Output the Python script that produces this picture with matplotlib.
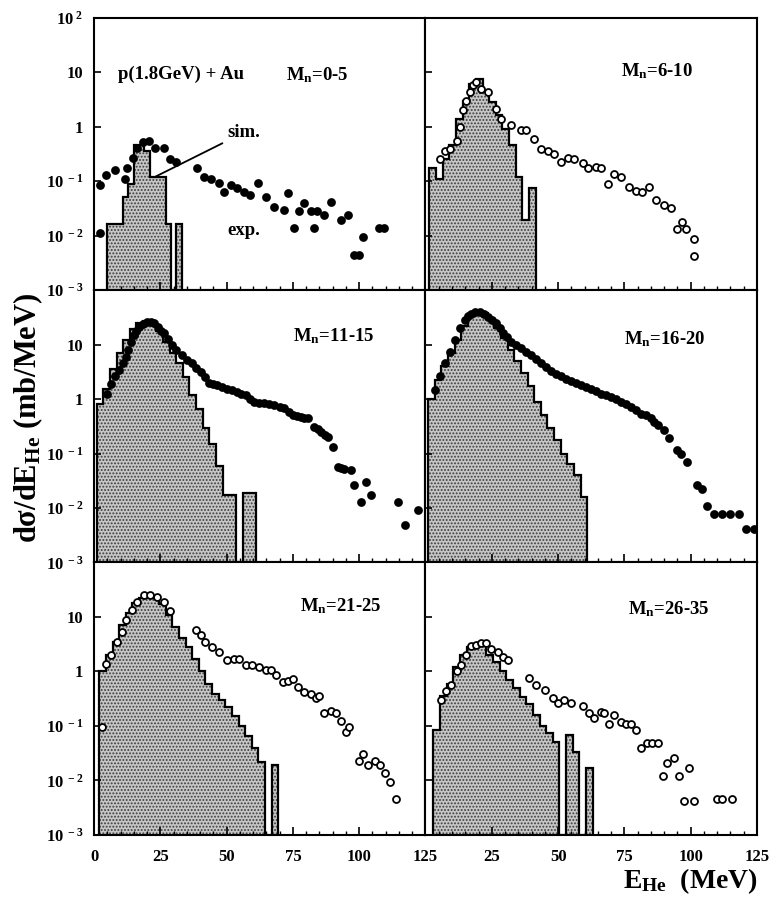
import numpy as np
import matplotlib
matplotlib.use('Agg')
import matplotlib.pyplot as plt
from matplotlib.ticker import FixedLocator, MultipleLocator, NullLocator

plt.rcParams['font.family'] = ['Liberation Serif', 'DejaVu Serif']
plt.rcParams['font.weight'] = 'bold'
plt.rcParams['mathtext.fontset'] = 'custom'
plt.rcParams['mathtext.rm'] = 'Liberation Serif:bold'
plt.rcParams['mathtext.it'] = 'Liberation Serif:italic:bold'
plt.rcParams['mathtext.bf'] = 'Liberation Serif:bold'
plt.rcParams['mathtext.default'] = 'rm'
plt.rcParams['hatch.linewidth'] = 0.9

YMIN, YMAX = 1e-3, 1e2

# multiplicity windows
mn_labels = ['0-5', '6-10', '11-15', '16-20', '21-25', '26-35']

# simulated spectra: first bin edge, bin width (MeV), bin contents (mb/MeV)
sim_start = [5.0, 1.5, 1.0, 1.0, 2.0, 3.0]
sim_width = [2.0, 2.5, 2.5, 2.5, 2.5, 2.5]
sim_0_5 = [0.016, 0.016, 0.016, 0.05, 0.09, 0.45, 0.45, 0.35, 0.12, 0.12, 0.12,
           0.016, 0, 0.016]
sim_6_10 = [0.17, 0.11, 0.25, 0.45, 1.4, 3.0, 6.0, 7.4, 4.5, 2.8, 1.6, 0.9, 0.45,
            0.12, 0.019, 0.075]
sim_11_15 = [0.8, 1.5, 3.5, 7.0, 12.0, 19.0, 25.0, 27.0, 25.0, 18.0, 11.0, 7.0, 4.5,
             2.5, 1.2, 0.65, 0.3, 0.15, 0.06, 0.017, 0.017, 0, 0.019, 0.019]
sim_16_20 = [1.0, 2.2, 4.0, 7.0, 12.0, 22.0, 33.0, 39.0, 38.0, 30.0, 20.0, 13.0, 8.0,
             5.0, 3.0, 1.7, 0.9, 0.5, 0.3, 0.18, 0.1, 0.065, 0.04, 0.016]
sim_21_25 = [1.0, 2.0, 3.5, 7.0, 12.0, 18.0, 22.0, 23.0, 22.0, 17.0, 11.0, 6.5, 4.2,
             2.8, 1.7, 1.0, 0.6, 0.38, 0.3, 0.22, 0.15, 0.1, 0.065, 0.04, 0.022,
             0, 0.019]
sim_26_35 = [0.085, 0.35, 0.6, 1.2, 2.0, 2.8, 3.2, 3.0, 2.0, 1.5, 1.0, 0.7, 0.5,
             0.34, 0.25, 0.16, 0.1, 0.075, 0.05, 0, 0.068, 0.034, 0, 0.017]

# measured spectra: energy (MeV) and cross section (mb/MeV)
exp_e_0_5 = [2.3, 2.3, 4.5, 8.0, 11.7, 12.5, 14.8, 16.2, 18.6, 20.6, 23.0, 26.2,
             28.8, 31.0, 39.0, 41.4, 44.0, 47.0, 49.0, 51.5, 54.0, 56.5, 59.0,
             62.0, 65.0, 68.0, 71.5, 73.0, 75.3, 77.4, 79.3, 81.8, 83.0, 84.0,
             86.8, 89.4, 93.0, 95.7, 98.0, 100.0, 101.4, 107.6, 109.5]
exp_v_0_5 = [0.011, 0.085, 0.13, 0.16, 0.11, 0.17, 0.27, 0.41, 0.52, 0.55, 0.41,
             0.41, 0.25, 0.22, 0.17, 0.12, 0.11, 0.093, 0.063, 0.085, 0.075, 0.064,
             0.056, 0.093, 0.05, 0.034, 0.029, 0.06, 0.014, 0.028, 0.04, 0.028,
             0.014, 0.028, 0.024, 0.041, 0.019, 0.024, 0.0044, 0.0044, 0.0093,
             0.014, 0.014]

exp_e_6_10 = [5.4, 7.3, 9.1, 11.7, 12.9, 14.2, 15.4, 16.7, 17.9, 19.2, 21.0, 23.6,
              26.7, 28.6, 32.3, 36.1, 38.0, 41.1, 43.6, 46.1, 48.6, 51.1, 53.6,
              56.1, 59.3, 61.2, 64.3, 66.2, 68.7, 71.2, 73.7, 76.8, 79.3, 81.8,
              84.3, 86.8, 90.0, 92.5, 95.0, 96.9, 98.1, 101.2, 101.2]
exp_v_6_10 = [0.25, 0.36, 0.39, 0.55, 1.0, 2.0, 3.0, 4.3, 5.7, 6.6, 4.9, 4.3, 2.1,
              1.4, 1.05, 0.85, 0.85, 0.58, 0.39, 0.36, 0.32, 0.22, 0.27, 0.25, 0.21,
              0.17, 0.18, 0.17, 0.089, 0.135, 0.12, 0.077, 0.067, 0.062, 0.077,
              0.044, 0.037, 0.032, 0.013, 0.018, 0.013, 0.0087, 0.0043]

exp_e_11_15 = [4.8, 6.5, 8.0, 9.5, 11.1, 12.0, 13.0, 14.0, 14.9, 15.8, 16.8, 18.4,
               20.0, 21.3, 22.5, 24.0, 25.2, 26.3, 27.8, 29.4, 31.0, 33.2, 35.0,
               37.0, 38.6, 40.2, 41.8, 43.3, 45.0, 46.5, 48.4, 50.3, 52.0, 54.0,
               55.6, 57.2, 58.8, 60.3, 62.2, 64.1, 66.0, 68.0, 70.0, 71.7, 73.4,
               74.9, 76.5, 78.0, 79.3, 80.6, 83.0, 84.3, 85.6, 87.0, 88.1, 90.0,
               91.9, 93.1, 94.4, 97.0, 98.2, 100.8, 102.7, 104.5, 114.7, 117.2,
               122.2]
exp_v_11_15 = [1.26, 1.9, 2.6, 3.4, 4.5, 6.0, 7.9, 11.0, 15.0, 18.0, 21.0, 24.0,
               26.0, 26.0, 24.5, 21.0, 18.0, 16.0, 12.5, 9.8, 8.0, 6.4, 5.3, 4.5,
               3.7, 3.1, 2.5, 2.0, 1.9, 1.8, 1.65, 1.55, 1.45, 1.35, 1.25, 1.18,
               1.0, 0.89, 0.86, 0.83, 0.8, 0.78, 0.72, 0.68, 0.58, 0.5, 0.48, 0.47,
               0.45, 0.44, 0.31, 0.28, 0.25, 0.22, 0.2, 0.13, 0.057, 0.055, 0.053,
               0.049, 0.026, 0.013, 0.03, 0.017, 0.013, 0.0048, 0.009]

exp_e_16_20 = [3.5, 5.4, 7.3, 9.1, 11.0, 12.9, 14.8, 16.0, 17.3, 18.8, 20.4, 22.0,
               23.6, 25.2, 26.7, 28.0, 29.2, 30.8, 32.3, 34.2, 36.1, 38.0, 39.8,
               41.7, 43.6, 45.5, 47.4, 49.2, 51.1, 53.0, 54.9, 56.8, 58.6, 60.5,
               62.4, 64.3, 66.2, 68.0, 69.9, 71.8, 73.7, 75.6, 77.4, 79.3, 81.2,
               83.1, 85.0, 86.3, 87.5, 90.0, 91.8, 95.0, 96.5, 98.8, 102.5, 104.4,
               106.3, 108.8, 111.9, 115.0, 118.2, 120.7, 123.8]
exp_v_16_20 = [1.45, 2.7, 4.5, 7.3, 12.0, 19.8, 28.0, 33.0, 37.0, 39.5, 40.0, 37.0,
               32.0, 28.0, 24.5, 20.0, 16.0, 13.5, 11.3, 9.8, 8.5, 7.4, 6.4, 5.4,
               4.5, 3.8, 3.2, 2.9, 2.6, 2.3, 2.1, 1.95, 1.8, 1.65, 1.55, 1.4, 1.26,
               1.18, 1.1, 1.0, 0.89, 0.8, 0.72, 0.62, 0.54, 0.5, 0.44, 0.38, 0.33,
               0.27, 0.19, 0.115, 0.1, 0.07, 0.026, 0.022, 0.011, 0.0079, 0.0079,
               0.0079, 0.0079, 0.0042, 0.0042]

exp_e_21_25 = [2.9, 4.5, 6.4, 8.6, 10.5, 12.1, 14.3, 16.2, 18.7, 21.2, 23.8, 26.3,
               28.8, 38.3, 40.2, 42.0, 44.6, 47.1, 50.3, 52.8, 54.7, 57.2, 59.7,
               62.2, 64.8, 66.7, 68.6, 71.1, 73.0, 74.9, 76.8, 79.3, 81.8, 83.7,
               85.0, 86.9, 89.4, 91.3, 93.2, 95.1, 96.3, 100.1, 101.4, 103.3, 105.8,
               107.7, 109.6, 111.5, 114.0]
exp_v_21_25 = [0.095, 1.4, 2.0, 3.5, 5.3, 8.7, 13.3, 19.0, 25.0, 25.0, 23.0, 19.0,
               13.0, 5.7, 4.6, 3.5, 2.8, 2.3, 1.6, 1.7, 1.7, 1.3, 1.3, 1.2, 1.05,
               1.05, 0.85, 0.65, 0.68, 0.73, 0.51, 0.42, 0.39, 0.32, 0.35, 0.17,
               0.19, 0.17, 0.125, 0.078, 0.095, 0.023, 0.031, 0.019, 0.023, 0.019,
               0.014, 0.0093, 0.0046]

exp_e_26_35 = [6.0, 7.9, 9.8, 11.7, 13.5, 15.4, 17.3, 19.2, 21.1, 22.9, 24.8, 27.3,
               29.2, 31.1, 39.2, 41.7, 44.9, 48.0, 49.9, 52.4, 54.9, 59.3, 61.8,
               63.6, 66.2, 67.4, 69.3, 71.2, 73.7, 75.6, 77.4, 79.3, 81.2, 83.7,
               85.6, 87.5, 89.4, 91.2, 93.7, 95.6, 97.5, 99.4, 101.2, 110.0, 111.9,
               115.7]
exp_v_26_35 = [0.30, 0.43, 0.56, 1.0, 1.3, 2.0, 2.9, 3.1, 3.3, 3.3, 2.6, 2.3, 1.87,
               1.62, 0.76, 0.56, 0.46, 0.32, 0.26, 0.3, 0.26, 0.23, 0.17, 0.14,
               0.18, 0.17, 0.11, 0.16, 0.12, 0.11, 0.11, 0.085, 0.039, 0.049, 0.049,
               0.049, 0.012, 0.021, 0.026, 0.012, 0.0042, 0.017, 0.0042, 0.0045,
               0.0045, 0.0045]

sim_vals = [sim_0_5, sim_6_10, sim_11_15, sim_16_20, sim_21_25, sim_26_35]
exp_e = [exp_e_0_5, exp_e_6_10, exp_e_11_15, exp_e_16_20, exp_e_21_25, exp_e_26_35]
exp_v = [exp_v_0_5, exp_v_6_10, exp_v_11_15, exp_v_16_20, exp_v_21_25, exp_v_26_35]
exp_filled = [True, False, True, True, False, False]
# label position (axes fraction) of each M_n text
mn_pos = [(0.58, 0.79), (0.59, 0.805), (0.60, 0.83), (0.60, 0.82), (0.62, 0.84),
          (0.61, 0.83)]

decades = [1e-3, 1e-2, 1e-1, 1, 10, 100]
decade_text = [r'10$^{\ -3}$', r'10$^{\ -2}$', r'10$^{\ -1}$', '1', '10',
               r'10$^{\ 2}$']
x_ticks = [0, 25, 50, 75, 100, 125]

fig = plt.figure(figsize=(7.79, 9.01), dpi=100)
lefts = [0.1207, 0.5462]
bottoms = [0.6781, 0.3757, 0.0733]
w, h = 0.4255, 0.3024

for i in range(6):
    row, col = i // 2, i % 2
    ax = fig.add_axes([lefts[col], bottoms[row], w, h])
    ax.set_yscale('log')
    ax.set_xlim(0, 125)
    ax.set_ylim(YMIN, YMAX)

    vals = np.asarray(sim_vals[i], dtype=float)
    edges = sim_start[i] + sim_width[i] * np.arange(len(vals) + 1)
    drawn = np.where(vals > 0, vals, YMIN)
    # stippled fill, then the black outline on top
    ax.stairs(drawn, edges, baseline=YMIN, fill=True, facecolor='#c6c6c6',
              edgecolor='#3c3c3c', hatch='.....', linewidth=0, zorder=1)
    ax.stairs(drawn, edges, baseline=YMIN, color='black', linewidth=1.6, zorder=2)

    face = 'black' if exp_filled[i] else 'white'
    ax.plot(exp_e[i], exp_v[i], ls='none', marker='o', ms=5, mfc=face,
            mec='black', mew=1.3, zorder=3)

    ax.text(mn_pos[i][0], mn_pos[i][1], r'M$_{\rm n}$=' + mn_labels[i],
            transform=ax.transAxes, fontsize=13.5, ha='left', va='center')

    for s in ax.spines.values():
        s.set_linewidth(1.5)

    ax.xaxis.set_major_locator(FixedLocator(x_ticks))
    ax.xaxis.set_minor_locator(MultipleLocator(5))
    ax.tick_params(axis='x', which='major', direction='in', length=6, width=1.2,
                   labelsize=12, pad=10)
    ax.tick_params(axis='x', which='minor', direction='in', length=3, width=1.0)
    if row == 2:
        labels = [str(t) for t in x_ticks]
        if col == 1:
            labels[0] = ''
        ax.set_xticklabels(labels)
    else:
        ax.set_xticklabels([])

    ax.yaxis.set_major_locator(FixedLocator(decades))
    ax.yaxis.set_minor_locator(NullLocator())
    ax.tick_params(axis='y', which='major', direction='in', length=5, width=1.2,
                   labelsize=12, pad=8)
    if col == 0:
        labels = list(decade_text)
        if row > 0:
            labels[-1] = ''
        ax.set_yticklabels(labels)
    else:
        ax.set_yticklabels([])

    if i == 0:
        ax.text(0.073, 0.79, 'p(1.8GeV) + Au', transform=ax.transAxes,
                fontsize=13.5, ha='left', va='center')
        ax.annotate('sim.', xy=(23.1, 0.12), xytext=(50.4, 0.78),
                    fontsize=13.5, ha='left', va='center',
                    arrowprops=dict(arrowstyle='-', lw=1.3, color='black',
                                    shrinkA=2, shrinkB=0))
        ax.text(50.4, 0.0125, 'exp.', fontsize=13.5, ha='left', va='center')

fig.text(0.036, 0.536, r'dσ/dE$_{\rm He}$ (mb/MeV)', rotation=90, fontsize=22,
         ha='center', va='center')
fig.text(0.886, 0.022, r'E$_{\rm He}$  (MeV)', fontsize=20, ha='center',
         va='center')

fig.savefig('out.png', dpi=100)
